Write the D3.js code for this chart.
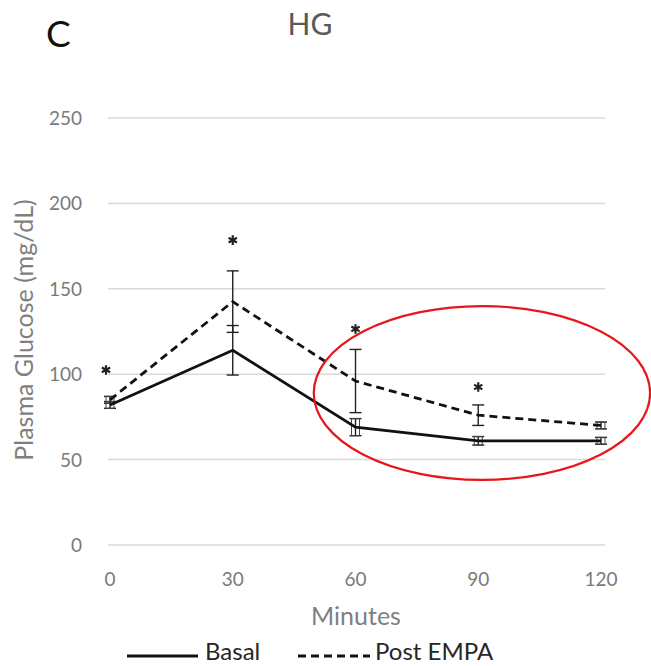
<!DOCTYPE html>
<html>
<head>
<meta charset="utf-8">
<script src="https://cdn.jsdelivr.net/npm/d3@7"></script>
<style>
    body { margin: 0; background: #fff; }
    svg text { font-family: Lato, "Open Sans", sans-serif; }
</style>
</head>
<body>
<div id="chart"></div>
<script>
// values
const minutes = [0, 30, 60, 90, 120];
const basal = [82, 114, 69, 61, 61];
const basalErr = [2, 14.5, 5, 2.5, 2];
const postEmpa = [85, 142.5, 96, 76, 70];
const postErr = [2, 18, 18.5, 6, 2];
const starMinutes = [0, 30, 60, 90];
const starLevel = [102.5, 178.5, 126.5, 92.5];
const yTicks = [0, 50, 100, 150, 200, 250];

const width = 651, height = 666;

let svg = d3.select('#chart').append('svg')
    .attr('width', width)
    .attr('height', height);

let xScale = d3.scaleLinear().domain([0, 120]).range([110, 601]);
let yScale = d3.scaleLinear().domain([0, 250]).range([545, 118]);

// gridlines
svg.append('g').selectAll('line')
    .data(yTicks)
    .join('line')
    .attr('x1', 108).attr('x2', 605)
    .attr('y1', d => yScale(d)).attr('y2', d => yScale(d))
    .attr('stroke', '#d9d9d9')
    .attr('stroke-width', 1.5);

// tick labels, no axis lines (Excel style)
svg.append('g').selectAll('text')
    .data(yTicks)
    .join('text')
    .attr('x', 82)
    .attr('y', d => yScale(d) + 7)
    .attr('text-anchor', 'end')
    .style('font-size', '19px')
    .attr('fill', '#7a7a7a')
    .text(d => d);

svg.append('g').selectAll('text')
    .data(minutes)
    .join('text')
    .attr('x', d => xScale(d))
    .attr('y', 586)
    .attr('text-anchor', 'middle')
    .style('font-size', '19px')
    .attr('fill', '#7a7a7a')
    .text(d => d);

// axis titles
svg.append('text')
    .attr('x', 356).attr('y', 625)
    .attr('text-anchor', 'middle')
    .style('font-size', '25px')
    .attr('fill', '#7f7f7f')
    .text('Minutes');

svg.append('text')
    .attr('transform', 'translate(33,330) rotate(-90)')
    .attr('text-anchor', 'middle')
    .style('font-size', '25px')
    .attr('fill', '#7f7f7f')
    .text('Plasma Glucose (mg/dL)');

// title and panel letter
svg.append('text')
    .attr('x', 310).attr('y', 35)
    .attr('text-anchor', 'middle')
    .style('font-size', '30px')
    .attr('fill', '#595959')
    .text('HG');

svg.append('text')
    .attr('x', 46).attr('y', 47)
    .style('font-size', '37px')
    .attr('fill', '#111')
    .text('C');

// error bars
function drawErrors(vals, errs, cls) {
    let g = svg.append('g').classed(cls, true);
    let rows = minutes.map((m, i) => ({ m: m, v: vals[i], e: errs[i] }));
    g.selectAll('line.stem').data(rows).join('line').classed('stem', true)
        .attr('x1', d => xScale(d.m)).attr('x2', d => xScale(d.m))
        .attr('y1', d => yScale(d.v + d.e)).attr('y2', d => yScale(d.v - d.e))
        .attr('stroke', '#222').attr('stroke-width', 1.4);
    g.selectAll('line.capt').data(rows).join('line').classed('capt', true)
        .attr('x1', d => xScale(d.m) - 6).attr('x2', d => xScale(d.m) + 6)
        .attr('y1', d => yScale(d.v + d.e)).attr('y2', d => yScale(d.v + d.e))
        .attr('stroke', '#222').attr('stroke-width', 1.4);
    g.selectAll('line.capb').data(rows).join('line').classed('capb', true)
        .attr('x1', d => xScale(d.m) - 6).attr('x2', d => xScale(d.m) + 6)
        .attr('y1', d => yScale(d.v - d.e)).attr('y2', d => yScale(d.v - d.e))
        .attr('stroke', '#222').attr('stroke-width', 1.4);
    // small bars in the picture look like little boxes
    g.selectAll('rect').data(rows.filter(d => d.e < 6)).join('rect')
        .attr('x', d => xScale(d.m) - 4).attr('width', 8)
        .attr('y', d => yScale(d.v + d.e)).attr('height', d => yScale(d.v - d.e) - yScale(d.v + d.e))
        .attr('fill', 'none').attr('stroke', '#444').attr('stroke-width', 1);
}
drawErrors(basal, basalErr, 'err-basal');
drawErrors(postEmpa, postErr, 'err-post');

// lines
let lineGen = d3.line()
    .x((d, i) => xScale(minutes[i]))
    .y(d => yScale(d));

svg.append('path')
    .attr('d', lineGen(basal))
    .attr('fill', 'none')
    .attr('stroke', '#111')
    .attr('stroke-width', 2.8);

svg.append('path')
    .attr('d', lineGen(postEmpa))
    .attr('fill', 'none')
    .attr('stroke', '#111')
    .attr('stroke-width', 2.8)
    .attr('stroke-dasharray', '8,5');

// significance stars
let starShape = d3.symbolAsterisk || d3.symbolTimes;
svg.append('g').selectAll('path')
    .data(starMinutes)
    .join('path')
    .attr('transform', (d, i) => 'translate(' + (xScale(d) - (i == 0 ? 4 : 0)) + ',' + yScale(starLevel[i]) + ')')
    .attr('d', d3.symbol().type(starShape).size(64))
    .attr('fill', 'none')
    .attr('stroke', '#222')
    .attr('stroke-width', 2.2);

// red ellipse annotation
svg.append('ellipse')
    .attr('cx', xScale(90.9))
    .attr('cy', yScale(89))
    .attr('rx', xScale(41.1) - xScale(0))
    .attr('ry', yScale(0) - yScale(50.9))
    .attr('fill', 'none')
    .attr('stroke', '#e8161b')
    .attr('stroke-width', 2.2);

// legend
let legend = svg.append('g').attr('transform', 'translate(0,656)');
legend.append('line')
    .attr('x1', 127).attr('x2', 198)
    .attr('stroke', '#111').attr('stroke-width', 2.8);
legend.append('text')
    .attr('x', 205).attr('y', 4)
    .style('font-size', '24px').attr('fill', '#262626')
    .text('Basal');
legend.append('line')
    .attr('x1', 298).attr('x2', 370)
    .attr('stroke', '#111').attr('stroke-width', 2.8)
    .attr('stroke-dasharray', '8,5');
legend.append('text')
    .attr('x', 375).attr('y', 4)
    .style('font-size', '24px').attr('fill', '#262626')
    .text('Post EMPA');
</script>
</body>
</html>
